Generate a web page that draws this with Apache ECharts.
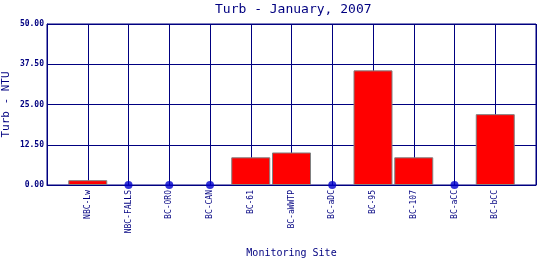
<!DOCTYPE html>
<html><head><meta charset="utf-8">
<script src="https://cdn.jsdelivr.net/npm/echarts@6/dist/echarts.min.js"></script>
<style>html,body{margin:0;padding:0;background:#fff}#c{width:540px;height:260px}</style>
</head><body><div id="c"></div>
<script>
var categories = ['NBC-Lw','NBC-FALLS','BC-ORO','BC-CAN','BC-61','BC-aWWTP','BC-aDC','BC-95','BC-107','BC-aCC','BC-bCC'];
var turbValues = [1.5, 0, 0, 0, 8.6, 10.1, 0, 35.6, 8.6, 0, 22.0];
var yTicks = [0, 12.5, 25, 37.5, 50];

var axisCats = [''].concat(categories).concat(['']);
var barData = [null].concat(turbValues.map(function(v){return v>0?v:null;})).concat([null]);
var dotData = [];
turbValues.forEach(function(v,i){ if(v===0) dotData.push([i+1, 0]); });

var navy = '#000080';
var font = 'DejaVu Sans Mono';
var chart = echarts.init(document.getElementById('c'), null, {renderer:'canvas'});
chart.setOption({
  animation:false,
  title:{text:'Turb - January, 2007', left:210, top:-2,
    textStyle:{fontFamily:font, fontSize:13, fontWeight:'normal', color:navy}},
  grid:{left:47, right:4, top:24, bottom:75, show:true, borderColor:navy, borderWidth:1,
    containLabel:false, outerBoundsMode:'none'},
  xAxis:{type:'category', data:axisCats, boundaryGap:false,
    name:'Monitoring Site', nameLocation:'middle', nameGap:63, nameMoveOverlap:false,
    nameTextStyle:{fontFamily:font, fontSize:10, color:navy, verticalAlign:'top'},
    axisLine:{lineStyle:{color:navy}}, axisTick:{show:false},
    axisLabel:{interval:0, rotate:90, margin:5, fontFamily:font, fontSize:8, color:navy},
    splitLine:{show:true, interval:0, lineStyle:{color:navy, width:1}}},
  yAxis:{type:'value', min:yTicks[0], max:yTicks[yTicks.length-1], interval:12.5,
    name:'Turb - NTU', nameLocation:'middle', nameGap:35, nameRotate:90, nameMoveOverlap:false,
    nameTextStyle:{fontFamily:font, fontSize:11, color:navy},
    axisLine:{show:true, lineStyle:{color:navy}}, axisTick:{show:false},
    axisLabel:{margin:3, fontFamily:font, fontSize:8, fontWeight:'bold', color:navy,
      formatter:function(v){return v.toFixed(2);}},
    splitLine:{show:true, lineStyle:{color:navy, width:1}}},
  series:[
    {type:'bar', data:barData, barWidth:39, itemStyle:{color:'#ff0000', borderColor:'#808080', borderWidth:1}},
    {type:'scatter', data:dotData, symbolSize:8, itemStyle:{color:'#0000cc'}, z:5}
  ]
});
</script></body></html>
